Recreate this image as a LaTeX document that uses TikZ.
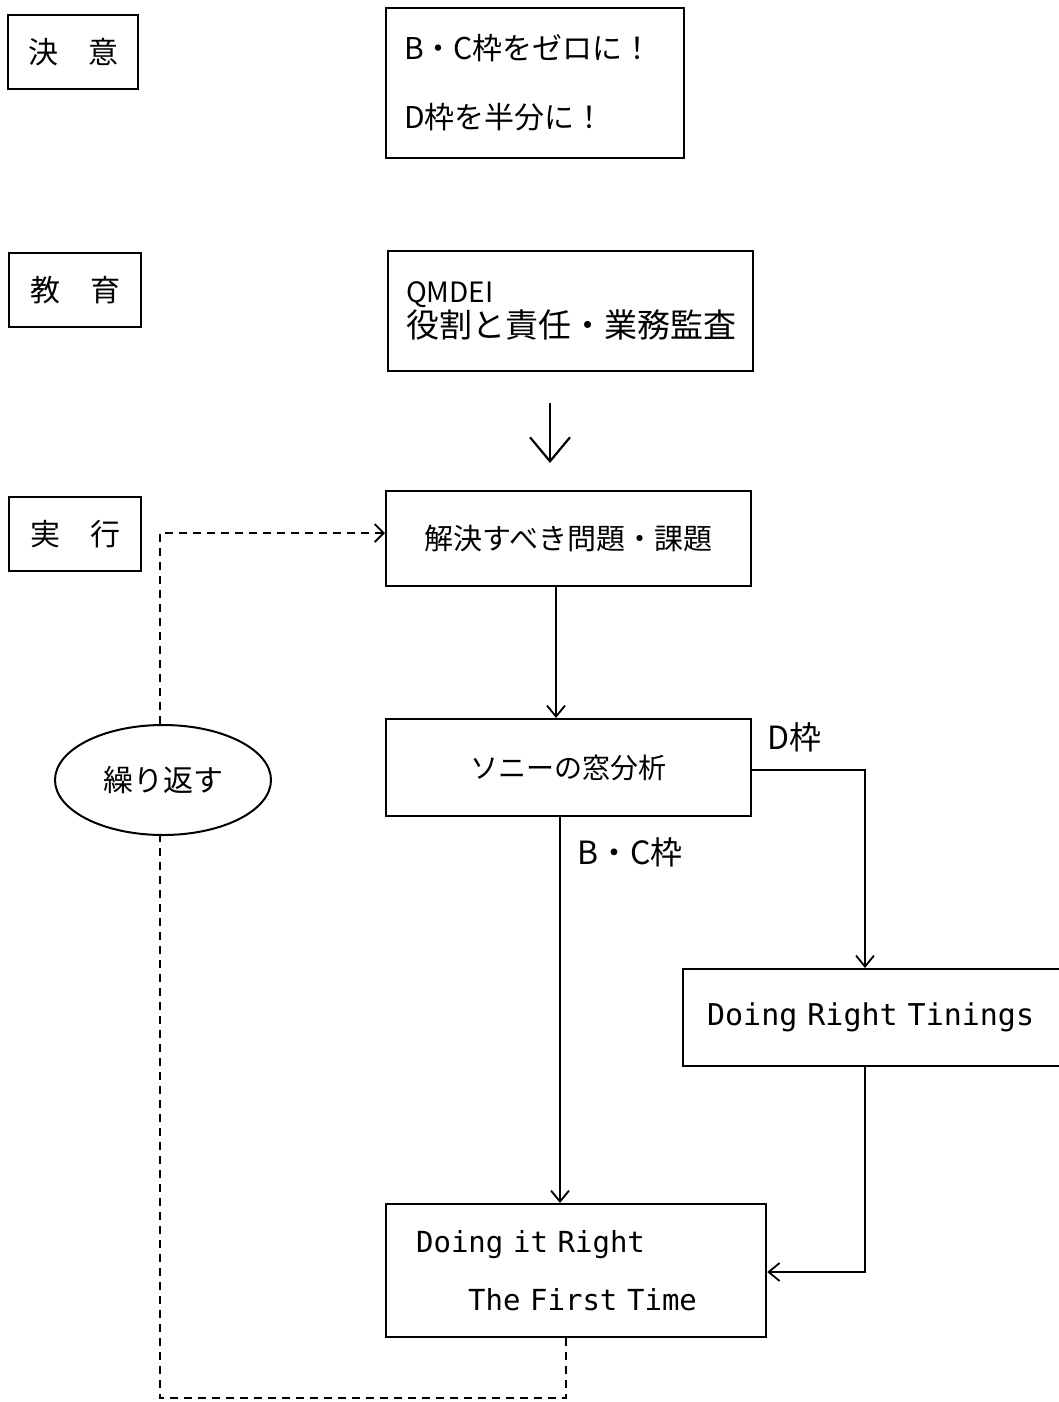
\documentclass[tikz,border=0pt]{standalone}
\usepackage{fontspec}
\setmainfont{Noto Sans CJK JP}
\newfontfamily\jpf{Noto Sans CJK JP}
\newfontfamily\monof{DejaVu Sans Mono}
\usetikzlibrary{arrows.meta,shapes.geometric}
\begin{document}
\begin{tikzpicture}[x=1pt,y=-1pt,
  box/.style={draw, line width=2.2pt, inner sep=0pt},
  tagbox/.style={box, minimum width=130pt, minimum height=74pt, anchor=north west, font=\jpf\fontsize{30}{36}\selectfont},
  conn/.style={line width=1.8pt, -{Straight Barb[length=11pt,width=18pt,line width=1.8pt]}},
  dashconn/.style={line width=1.8pt, dash pattern=on 8pt off 6pt},
  lbl/.style={font=\jpf\fontsize{32}{38}\selectfont, inner sep=0pt}
]
\fill[white] (0,0) rectangle (1059,1402);
\useasboundingbox (0,0) rectangle (1059,1402);

% left tags
\node[tagbox] (t1) at (7,14) {決　意};
\node[tagbox, minimum width=132pt] (t2) at (8,252) {教　育};
\node[tagbox, minimum width=132pt] (t3) at (8,496) {実　行};

% main boxes
\node[box, anchor=north west, minimum width=298pt, minimum height=150pt, align=left,
      text width=262pt, inner xsep=18pt, font=\jpf\fontsize{30}{69}\selectfont] (goal) at (385,7)
  {B・C枠をゼロに！\\D枠を半分に！};

\node[box, anchor=north west, minimum width=365pt, minimum height=120pt, align=left,
      text width=329pt, inner xsep=18pt, font=\jpf\fontsize{33}{35}\selectfont] (edu) at (387,250)
  {{\fontsize{28}{35}\selectfont QMDEI}\\役割と責任・業務監査};

\node[box, anchor=north west, minimum width=365pt, minimum height=95pt,
      font=\jpf\fontsize{29}{35}\selectfont] (prob) at (385,490) {解決すべき問題・課題};

\node[box, anchor=north west, minimum width=365pt, minimum height=97pt,
      font=\jpf\fontsize{28}{34}\selectfont] (sony) at (385,718) {ソニーの窓分析};

\node[box, anchor=north west, minimum width=400pt, minimum height=97pt, align=left,
      text width=376pt, inner xsep=24pt, font=\monof\fontsize{30}{35}\selectfont] (drt) at (682,968)
  {Doing Right Tinings};

\node[box, anchor=north west, minimum width=380pt, minimum height=133pt, align=left,
      text width=320pt, inner xsep=30pt, font=\monof\fontsize{29}{58}\selectfont] (ditr) at (385,1203)
  {Doing it Right\\\hspace*{52pt}The First Time};

\node[draw, line width=2pt, ellipse, minimum width=216pt, minimum height=110pt, inner sep=0pt,
      font=\jpf\fontsize{30}{36}\selectfont] (rep) at (163,780) {繰り返す};

% labels
\node[lbl, anchor=west] (dlbl) at (767,737) {D枠};
\node[lbl, anchor=west] (bclbl) at (577,852) {B・C枠};

% big arrow
\coordinate (ba1) at (550,403);
\coordinate (ba2) at (550,463);
\draw[line width=2.2pt, -{Straight Barb[length=24pt,width=40pt,line width=2.2pt]}] (ba1) -- (ba2);

% connectors
\coordinate (px) at (556,0);
\draw[conn] (prob.south -| px) -- (sony.north -| px);

\coordinate (c1) at (865,770);
\draw[conn] (sony.east |- c1) -- (c1) -- (c1 |- drt.north);

\coordinate (bcx) at (560,0);
\draw[conn] (sony.south -| bcx) -- (ditr.north -| bcx);

\coordinate (c2) at (865,1272);
\draw[conn] (c1 |- drt.south) -- (c2) -- (ditr.east |- c2);

% dashed loop
\coordinate (d1) at (566,1398);
\coordinate (d2) at (160,1398);
\coordinate (d3) at (160,533);
\draw[dashconn] (ditr.south -| d1) -- (d1) -- (d2) -- (d2 |- rep.south);
\draw[dashconn, -{Straight Barb[length=9pt,width=18pt,line width=1.8pt]}] (d3 |- rep.north) -- (d3) -- (prob.west |- d3);
\end{tikzpicture}
\end{document}
